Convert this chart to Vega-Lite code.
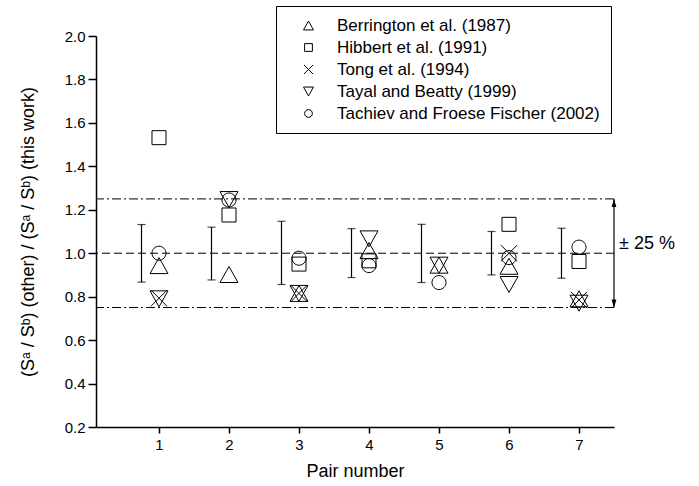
{
  "$schema": "https://vega.github.io/schema/vega-lite/v6.json",
  "width": 518,
  "height": 391,
  "autosize": "none",
  "padding": {"left": 96, "top": 36, "right": 85, "bottom": 59},
  "config": {
    "view": {"stroke": null},
    "font": "Liberation Sans",
    "axis": {"grid": false, "domainColor": "black", "tickColor": "black", "labelColor": "black", "titleColor": "black", "titleFontWeight": "normal", "domainWidth": 1.5, "tickWidth": 1.5}
  },
  "datasets": {
    "points": [
      {"pair": 1, "ratio": 0.943, "source": "Berrington et al. (1987)"},
      {"pair": 2, "ratio": 0.902, "source": "Berrington et al. (1987)"},
      {"pair": 3, "ratio": 0.815, "source": "Berrington et al. (1987)"},
      {"pair": 4, "ratio": 1.012, "source": "Berrington et al. (1987)"},
      {"pair": 5, "ratio": 0.945, "source": "Berrington et al. (1987)"},
      {"pair": 6, "ratio": 0.94, "source": "Berrington et al. (1987)"},
      {"pair": 7, "ratio": 0.79, "source": "Berrington et al. (1987)"},
      {"pair": 1, "ratio": 1.532, "source": "Hibbert et al. (1991)"},
      {"pair": 2, "ratio": 1.176, "source": "Hibbert et al. (1991)"},
      {"pair": 3, "ratio": 0.95, "source": "Hibbert et al. (1991)"},
      {"pair": 4, "ratio": 0.965, "source": "Hibbert et al. (1991)"},
      {"pair": 6, "ratio": 1.133, "source": "Hibbert et al. (1991)"},
      {"pair": 7, "ratio": 0.962, "source": "Hibbert et al. (1991)"},
      {"pair": 1, "ratio": 0.793, "source": "Tong et al. (1994)"},
      {"pair": 3, "ratio": 0.815, "source": "Tong et al. (1994)"},
      {"pair": 6, "ratio": 1.0, "source": "Tong et al. (1994)"},
      {"pair": 7, "ratio": 0.785, "source": "Tong et al. (1994)"},
      {"pair": 1, "ratio": 0.79, "source": "Tayal and Beatty (1999)"},
      {"pair": 2, "ratio": 1.247, "source": "Tayal and Beatty (1999)"},
      {"pair": 3, "ratio": 0.815, "source": "Tayal and Beatty (1999)"},
      {"pair": 4, "ratio": 1.066, "source": "Tayal and Beatty (1999)"},
      {"pair": 5, "ratio": 0.945, "source": "Tayal and Beatty (1999)"},
      {"pair": 6, "ratio": 0.856, "source": "Tayal and Beatty (1999)"},
      {"pair": 7, "ratio": 0.77, "source": "Tayal and Beatty (1999)"},
      {"pair": 1, "ratio": 1.0, "source": "Tachiev and Froese Fischer (2002)"},
      {"pair": 2, "ratio": 1.245, "source": "Tachiev and Froese Fischer (2002)"},
      {"pair": 3, "ratio": 0.977, "source": "Tachiev and Froese Fischer (2002)"},
      {"pair": 4, "ratio": 0.943, "source": "Tachiev and Froese Fischer (2002)"},
      {"pair": 5, "ratio": 0.865, "source": "Tachiev and Froese Fischer (2002)"},
      {"pair": 6, "ratio": 0.98, "source": "Tachiev and Froese Fischer (2002)"},
      {"pair": 7, "ratio": 1.028, "source": "Tachiev and Froese Fischer (2002)"}
    ],
    "errors": [
      {"pair": 1, "lo": 0.867, "hi": 1.132},
      {"pair": 2, "lo": 0.877, "hi": 1.12},
      {"pair": 3, "lo": 0.856, "hi": 1.147},
      {"pair": 4, "lo": 0.888, "hi": 1.113},
      {"pair": 5, "lo": 0.865, "hi": 1.133},
      {"pair": 6, "lo": 0.9, "hi": 1.1},
      {"pair": 7, "lo": 0.885, "hi": 1.115}
    ]
  },
  "layer": [
    {
      "data": {"values": [{"level": 1.25}, {"level": 0.75}]},
      "mark": {"type": "rule", "color": "black", "strokeWidth": 1, "strokeDash": [9, 3, 2, 3]},
      "encoding": {"y": {"field": "level", "type": "quantitative"}}
    },
    {
      "data": {"values": [{"level": 1.0}]},
      "mark": {"type": "rule", "color": "black", "strokeWidth": 1, "strokeDash": [8, 4]},
      "encoding": {"y": {"field": "level", "type": "quantitative"}}
    },
    {
      "data": {"name": "errors"},
      "mark": {"type": "rule", "color": "black", "strokeWidth": 1.2, "xOffset": -17.5},
      "encoding": {
        "x": {"field": "pair", "type": "quantitative"},
        "y": {"field": "lo", "type": "quantitative"},
        "y2": {"field": "hi"}
      }
    },
    {
      "data": {"name": "errors"},
      "mark": {"type": "tick", "color": "black", "orient": "horizontal", "size": 8, "thickness": 1.2, "xOffset": -17.5},
      "encoding": {
        "x": {"field": "pair", "type": "quantitative"},
        "y": {"field": "lo", "type": "quantitative"}
      }
    },
    {
      "data": {"name": "errors"},
      "mark": {"type": "tick", "color": "black", "orient": "horizontal", "size": 8, "thickness": 1.2, "xOffset": -17.5},
      "encoding": {
        "x": {"field": "pair", "type": "quantitative"},
        "y": {"field": "hi", "type": "quantitative"}
      }
    },
    {
      "data": {"name": "points"},
      "mark": {"type": "point", "filled": false, "color": "black", "strokeWidth": 1, "size": 324, "opacity": 1},
      "encoding": {
        "x": {
          "field": "pair", "type": "quantitative",
          "scale": {"domain": [0.1, 7.5], "nice": false, "zero": false},
          "axis": {"title": "Pair number", "values": [1, 2, 3, 4, 5, 6, 7], "format": "d", "tickSize": 6, "labelFontSize": 15, "labelPadding": 4, "titleFontSize": 18, "titleY": 35, "titleBaseline": "top"}
        },
        "y": {
          "field": "ratio", "type": "quantitative",
          "scale": {"domain": [0.2, 2.0], "nice": false, "zero": false},
          "axis": {
            "title": "(Sᵃ / Sᵇ) (other) / (Sᵃ / Sᵇ) (this work)",
            "values": [0.2, 0.3, 0.4, 0.5, 0.6, 0.7, 0.8, 0.9, 1.0, 1.1, 1.2, 1.3, 1.4, 1.5, 1.6, 1.7, 1.8, 1.9, 2.0],
            "labelExpr": "round(datum.value * 10) % 2 == 0 ? format(datum.value, '.1f') : ''",
            "tickSize": {"condition": {"test": "round(datum.value * 10) % 2 == 0", "value": 8}, "value": 4},
            "labelFontSize": 15,
            "labelPadding": 3,
            "titleFontSize": 18,
            "titleX": -68,
            "titleBaseline": "middle"
          }
        },
        "shape": {
          "field": "source", "type": "nominal",
          "scale": {
            "domain": ["Berrington et al. (1987)", "Hibbert et al. (1991)", "Tong et al. (1994)", "Tayal and Beatty (1999)", "Tachiev and Froese Fischer (2002)"],
            "range": [
              "M0,-0.889L1,0.889L-1,0.889Z",
              "M-0.778,-0.778H0.778V0.778H-0.778Z",
              "M-0.9,-0.9L0.9,0.9M-0.9,0.9L0.9,-0.9",
              "M0,0.889L1,-0.889L-1,-0.889Z",
              "M0.778,0A0.778,0.778 0 1,1 -0.778,0A0.778,0.778 0 1,1 0.778,0Z"
            ]
          },
          "legend": {
            "title": null,
            "orient": "none",
            "legendX": 180,
            "legendY": -30,
            "strokeColor": "black",
            "fillColor": "white",
            "padding": 11,
            "symbolOffset": 13,
            "symbolSize": 100,
            "symbolStrokeColor": "black",
            "symbolStrokeWidth": 1,
            "symbolFillColor": "transparent",
            "labelFontSize": 17,
            "labelColor": "black",
            "labelOffset": 20,
            "labelLimit": 400,
            "rowPadding": 4
          }
        }
      }
    },
    {
      "data": {"values": [{"pos": 7.5, "lo": 0.75, "hi": 1.25}]},
      "mark": {"type": "rule", "color": "black", "strokeWidth": 1.2},
      "encoding": {
        "x": {"field": "pos", "type": "quantitative"},
        "y": {"field": "lo", "type": "quantitative"},
        "y2": {"field": "hi"}
      }
    },
    {
      "data": {"values": [{"pos": 7.5, "level": 1.25}]},
      "mark": {"type": "point", "filled": true, "color": "black", "opacity": 1, "size": 256, "shape": "M0,0L-0.3,1L0.3,1Z"},
      "encoding": {
        "x": {"field": "pos", "type": "quantitative"},
        "y": {"field": "level", "type": "quantitative"}
      }
    },
    {
      "data": {"values": [{"pos": 7.5, "level": 0.75}]},
      "mark": {"type": "point", "filled": true, "color": "black", "opacity": 1, "size": 256, "shape": "M0,0L-0.3,-1L0.3,-1Z"},
      "encoding": {
        "x": {"field": "pos", "type": "quantitative"},
        "y": {"field": "level", "type": "quantitative"}
      }
    },
    {
      "data": {"values": [{"pos": 7.5, "level": 1.0, "label": "± 25 %"}]},
      "mark": {"type": "text", "color": "black", "fontSize": 18, "align": "left", "baseline": "bottom", "dx": 5, "clip": false},
      "encoding": {
        "x": {"field": "pos", "type": "quantitative"},
        "y": {"field": "level", "type": "quantitative"},
        "text": {"field": "label"}
      }
    }
  ]
}
